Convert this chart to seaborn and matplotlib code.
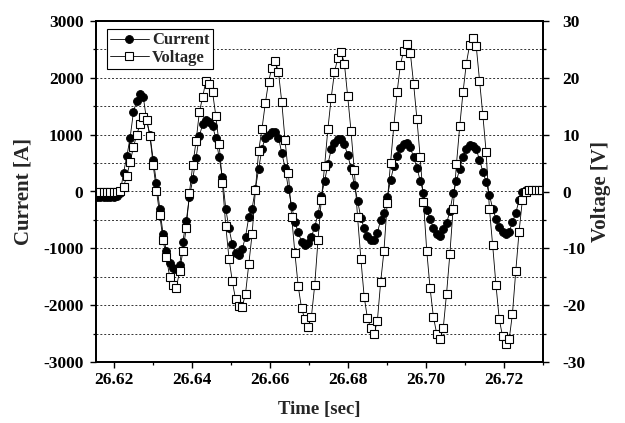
import matplotlib
matplotlib.use("Agg")
import matplotlib.pyplot as plt
import seaborn as sns
import pandas as pd
from matplotlib.ticker import FixedLocator, FormatStrFormatter

# ---------------- data ----------------
time_sec = [
    26.61570, 26.61655, 26.61739, 26.61824, 26.61908, 26.61993, 26.62077, 26.62162, 26.62246, 26.62331,
    26.62415, 26.62500, 26.62584, 26.62669, 26.62753, 26.62838, 26.62922, 26.63007, 26.63091, 26.63176,
    26.63260, 26.63345, 26.63429, 26.63514, 26.63598, 26.63683, 26.63767, 26.63852, 26.63936, 26.64021,
    26.64105, 26.64190, 26.64274, 26.64359, 26.64443, 26.64528, 26.64612, 26.64697, 26.64781, 26.64866,
    26.64950, 26.65035, 26.65119, 26.65204, 26.65288, 26.65373, 26.65457, 26.65542, 26.65626, 26.65711,
    26.65795, 26.65880, 26.65964, 26.66049, 26.66133, 26.66218, 26.66302, 26.66387, 26.66471, 26.66556,
    26.66640, 26.66725, 26.66809, 26.66894, 26.66978, 26.67063, 26.67147, 26.67232, 26.67316, 26.67401,
    26.67485, 26.67570, 26.67654, 26.67739, 26.67823, 26.67908, 26.67992, 26.68077, 26.68161, 26.68246,
    26.68330, 26.68415, 26.68499, 26.68584, 26.68668, 26.68753, 26.68837, 26.68922, 26.69006, 26.69091,
    26.69175, 26.69260, 26.69344, 26.69429, 26.69513, 26.69598, 26.69682, 26.69767, 26.69851, 26.69936,
    26.70020, 26.70105, 26.70189, 26.70274, 26.70358, 26.70443, 26.70527, 26.70612, 26.70696, 26.70781,
    26.70865, 26.70950, 26.71034, 26.71119, 26.71203, 26.71288, 26.71372, 26.71457, 26.71541, 26.71626,
    26.71710, 26.71795, 26.71879, 26.71964, 26.72048, 26.72133, 26.72217, 26.72302, 26.72386, 26.72471,
    26.72555, 26.72640, 26.72724, 26.72809, 26.72893, 26.72978,
]

current_a = [
    -100, -100, -95, -95, -90, -90, -80, -20, 330, 620,
    950, 1400, 1600, 1710, 1660, 1250, 1000, 560, 150, -300,
    -750, -1050, -1250, -1340, -1370, -1300, -880, -520, -100, 220,
    590, 980, 1180, 1250, 1220, 1150, 940, 600, 250, -300,
    -650, -930, -1080, -1120, -1010, -800, -450, -300, 50, 400,
    750, 950, 1000, 1040, 1050, 950, 680, 420, 50, -250,
    -540, -720, -880, -940, -910, -800, -620, -400, -80, 180,
    480, 740, 860, 930, 930, 830, 640, 420, 120, -160,
    -460, -650, -780, -850, -850, -730, -500, -370, -100, 200,
    440, 620, 770, 840, 860, 780, 600, 420, 190, -20,
    -330, -480, -640, -750, -790, -660, -560, -350, -30, 190,
    400, 610, 750, 810, 800, 740, 560, 350, 170, -60,
    -300, -480, -630, -710, -740, -710, -540, -380, -150, -10,
    20, 20, 20, 20, 20, 20,
]

voltage_v = [
    0, 0, 0, 0, 0, 0, 0, 0.1, 0.8, 2.8,
    5.2, 7.8, 10.0, 11.8, 13.1, 12.6, 9.8, 4.6, 0.1, -4.2,
    -8.6, -11.6, -15.0, -16.4, -17.0, -14.0, -10.5, -6.5, -0.2, 4.7,
    8.8, 14.0, 16.6, 19.5, 19.0, 17.5, 13.3, 8.3, 1.5, -6.0,
    -11.8, -15.8, -19.0, -20.1, -20.3, -18.0, -12.7, -7.5, 0.2, 7.2,
    11.0, 15.5, 19.3, 21.8, 23.0, 21.0, 15.8, 9.0, 3.3, -4.4,
    -10.9, -16.7, -20.5, -22.5, -23.8, -22.0, -16.5, -8.5, -1.5, 4.5,
    11.0, 16.5, 21.0, 23.5, 24.6, 22.5, 16.8, 10.7, 3.8, -4.5,
    -11.8, -18.5, -22.3, -24.0, -25.0, -22.8, -16.0, -10.5, -2.0, 5.0,
    11.5, 17.5, 22.3, 24.8, 26.0, 24.4, 19.0, 12.8, 6.0, -1.8,
    -10.5, -17.0, -22.0, -25.0, -26.0, -24.0, -18.0, -11.0, -3.0, 4.8,
    11.5, 17.5, 22.5, 25.8, 27.0, 25.6, 19.5, 13.5, 7.0, -3.0,
    -9.5, -16.5, -22.5, -25.5, -26.8, -26.0, -21.5, -14.0, -7.1, -1.5,
    0.0, 0.3, 0.3, 0.3, 0.3, 0.3,
]

x_ticks = [26.62, 26.64, 26.66, 26.68, 26.70, 26.72]
current_ticks = [-3000, -2000, -1000, 0, 1000, 2000, 3000]
voltage_ticks = [-30, -20, -10, 0, 10, 20, 30]
series_labels = ["Current", "Voltage"]

# ---------------- style ----------------
sns.set_theme(style="ticks")
plt.rcParams["font.family"] = ["Liberation Serif", "DejaVu Serif"]
plt.rcParams["font.weight"] = "bold"
plt.rcParams["axes.labelweight"] = "bold"
plt.rcParams["axes.unicode_minus"] = False

df = pd.DataFrame({"time": time_sec, "current": current_a, "voltage": voltage_v})

fig = plt.figure(figsize=(6.25, 4.23), dpi=100)
L, R, B, T = 96, 543, 362, 21
W, H = 625, 423
ax = fig.add_axes([L / W, 1 - B / H, (R - L) / W, (B - T) / H])

sns.lineplot(data=df, x="time", y="current", ax=ax, estimator=None, sort=False,
             color="black", lw=0.6, marker="o", markersize=5.7,
             markerfacecolor="black", markeredgecolor="black", markeredgewidth=0.6)

ax2 = ax.twinx()
sns.lineplot(data=df, x="time", y="voltage", ax=ax2, estimator=None, sort=False,
             color="black", lw=0.6, marker="s", markersize=5.7,
             markerfacecolor="white", markeredgecolor="black", markeredgewidth=0.8)

# axes limits / ticks
ax.set_xlim(26.6154, 26.7300)
ax.set_ylim(-3000, 3000)
ax2.set_ylim(-30, 30)
ax.xaxis.set_major_locator(FixedLocator(x_ticks))
ax.xaxis.set_major_formatter(FormatStrFormatter("%.2f"))
ax.xaxis.set_minor_locator(FixedLocator([t + 0.01 for t in x_ticks[:-1]] + [26.61, 26.73]))
ax.yaxis.set_major_locator(FixedLocator(current_ticks))
ax.yaxis.set_minor_locator(FixedLocator([c + 500 for c in current_ticks[:-1]]))
ax2.yaxis.set_major_locator(FixedLocator(voltage_ticks))
ax2.yaxis.set_minor_locator(FixedLocator([v + 5 for v in voltage_ticks[:-1]]))

ax.grid(axis="y", which="both", linestyle=(0, (2, 2)), color="#333333", lw=0.7)

ax.tick_params(axis="both", which="major", direction="out", length=4, width=1,
               labelsize=12.5, color="black", labelcolor="black")
ax.tick_params(axis="both", which="minor", direction="out", length=2.5, width=0.9, color="black")
ax.tick_params(axis="y", which="major", pad=5)
ax.tick_params(axis="x", which="major", pad=3)
ax2.tick_params(axis="y", which="major", direction="out", length=4, width=1,
                labelsize=12.5, pad=10, color="black", labelcolor="black")
ax2.tick_params(axis="y", which="minor", direction="out", length=2.5, width=0.9, color="black")

for a in (ax, ax2):
    for s in a.spines.values():
        s.set_visible(True)
        s.set_linewidth(1.3)
        s.set_color("black")

ax.set_xlabel("Time [sec]", fontsize=13.5, fontweight="bold")
ax.set_ylabel("Current [A]", fontsize=15, fontweight="bold")
ax2.set_ylabel("Voltage [V]", fontsize=15, fontweight="bold")
ax.xaxis.set_label_coords(0.5, (B - 401) / (B - T))
ax.yaxis.set_label_coords((33 - L) / (R - L), 0.5)
ax2.yaxis.set_label_coords((591 - L) / (R - L), 0.5)

handles = [ax.lines[0], ax2.lines[0]]
leg = ax2.legend(handles, series_labels, loc="upper left",
                 bbox_to_anchor=((107 - L) / (R - L), (B - 29) / (B - T)),
                 frameon=True, fancybox=False, framealpha=1, edgecolor="black",
                 fontsize=12, borderpad=0.2, handlelength=2.3, handletextpad=0.2,
                 labelspacing=0.1, borderaxespad=0)
leg.get_frame().set_linewidth(0.8)
for txt in leg.get_texts():
    txt.set_fontweight("bold")

fig.savefig("out.png", dpi=100)
